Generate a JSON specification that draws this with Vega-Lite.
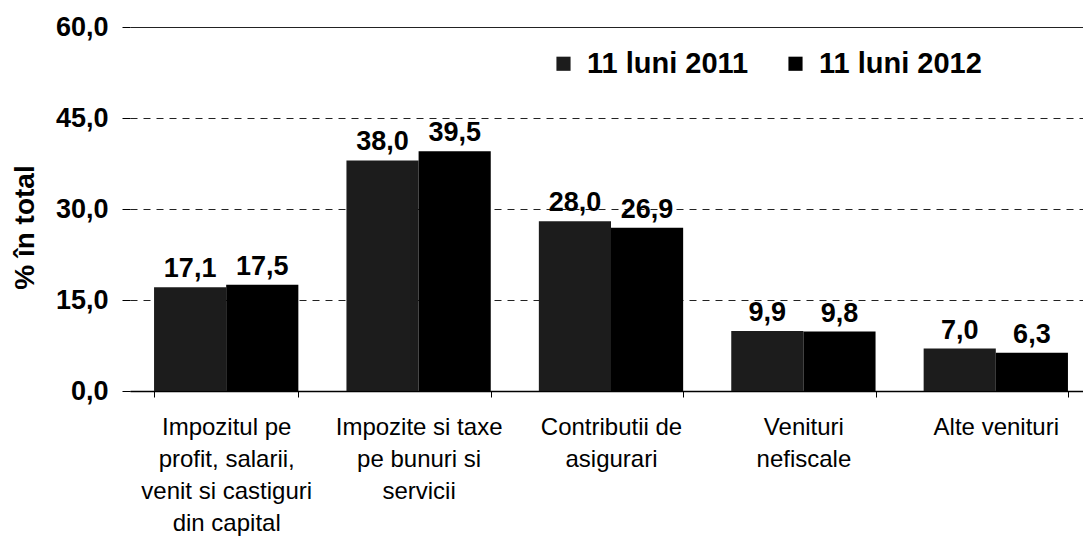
{
  "$schema": "https://vega.github.io/schema/vega-lite/v6.json",
  "width": 953,
  "height": 364,
  "autosize": {"type": "none"},
  "padding": {"left": 130, "top": 27, "right": 0, "bottom": 147},
  "background": "white",
  "config": {
    "locale": {"number": {"decimal": ",", "thousands": ".", "grouping": [3], "currency": ["", " lei"]}},
    "font": "Liberation Sans",
    "view": {"stroke": null}
  },
  "data": {
    "values": [
      {"categorie": "Impozitul pe profit, salarii, venit si castiguri din capital", "perioada": "11 luni 2011", "valoare": 17.1},
      {"categorie": "Impozitul pe profit, salarii, venit si castiguri din capital", "perioada": "11 luni 2012", "valoare": 17.5},
      {"categorie": "Impozite si taxe pe bunuri si servicii", "perioada": "11 luni 2011", "valoare": 38.0},
      {"categorie": "Impozite si taxe pe bunuri si servicii", "perioada": "11 luni 2012", "valoare": 39.5},
      {"categorie": "Contributii de asigurari", "perioada": "11 luni 2011", "valoare": 28.0},
      {"categorie": "Contributii de asigurari", "perioada": "11 luni 2012", "valoare": 26.9},
      {"categorie": "Venituri nefiscale", "perioada": "11 luni 2011", "valoare": 9.9},
      {"categorie": "Venituri nefiscale", "perioada": "11 luni 2012", "valoare": 9.8},
      {"categorie": "Alte venituri", "perioada": "11 luni 2011", "valoare": 7.0},
      {"categorie": "Alte venituri", "perioada": "11 luni 2012", "valoare": 6.3}
    ]
  },
  "encoding": {
    "x": {
      "field": "categorie",
      "type": "nominal",
      "sort": null,
      "scale": {"range": [0, 962], "paddingInner": 0.25, "paddingOuter": 0.125},
      "axis": {
        "title": null,
        "labelAngle": 0,
        "labelFont": "Liberation Sans",
        "labelFontSize": 24,
        "labelColor": "#000",
        "labelLineHeight": 32,
        "labelPadding": 18,
        "labelBaseline": "top",
        "labelLimit": 300,
        "tickBand": "extent",
        "tickSize": 6,
        "tickColor": "#000",
        "domainColor": "#000",
        "domainWidth": 1.5,
        "labelExpr": "datum.value == 'Impozitul pe profit, salarii, venit si castiguri din capital' ? ['Impozitul pe', 'profit, salarii,', 'venit si castiguri', 'din capital'] : datum.value == 'Impozite si taxe pe bunuri si servicii' ? ['Impozite si taxe', 'pe bunuri si', 'servicii'] : datum.value == 'Contributii de asigurari' ? ['Contributii de', 'asigurari'] : datum.value == 'Venituri nefiscale' ? ['Venituri', 'nefiscale'] : datum.label"
      }
    },
    "xOffset": {"field": "perioada", "type": "nominal", "sort": ["11 luni 2011", "11 luni 2012"]},
    "y": {
      "field": "valoare",
      "type": "quantitative",
      "scale": {"domain": [0, 60], "nice": false},
      "axis": {
        "title": "% în total",
        "titleFont": "Liberation Sans",
        "titleFontSize": 28,
        "titleFontWeight": "bold",
        "titleColor": "#000",
        "titleAngle": -90,
        "titleAlign": "center",
        "titleBaseline": "middle",
        "titleX": -105,
        "titleY": 200,
        "values": [0, 15, 30, 45, 60],
        "format": ".1f",
        "labelFont": "Liberation Sans",
        "labelFontSize": 27,
        "labelFontWeight": "bold",
        "labelColor": "#000",
        "labelPadding": 14,
        "tickSize": 8,
        "tickColor": "#000",
        "domain": false,
        "grid": true,
        "gridColor": "#222",
        "gridWidth": 1,
        "gridDash": {"condition": {"test": "datum.value == 60", "value": []}, "value": [7, 6]}
      }
    }
  },
  "layer": [
    {
      "mark": {"type": "bar"},
      "encoding": {
        "color": {
          "field": "perioada",
          "type": "nominal",
          "sort": ["11 luni 2011", "11 luni 2012"],
          "scale": {"domain": ["11 luni 2011", "11 luni 2012"], "range": ["#1c1c1c", "#000000"]},
          "legend": {
            "title": null,
            "orient": "none",
            "direction": "horizontal",
            "legendX": 419,
            "legendY": 22,
            "padding": 0,
            "symbolType": "square",
            "symbolSize": 200,
            "symbolStrokeWidth": 0,
            "labelFont": "Liberation Sans",
            "labelFontSize": 29,
            "labelFontWeight": "bold",
            "labelColor": "#000",
            "labelOffset": 9,
            "columnPadding": 32,
            "labelLimit": 300
          }
        }
      }
    },
    {
      "mark": {"type": "text", "dy": -4, "baseline": "bottom", "align": "center", "font": "Liberation Sans", "fontSize": 27, "fontWeight": "bold", "color": "#000"},
      "encoding": {
        "text": {"field": "valoare", "type": "quantitative", "format": ".1f"}
      }
    }
  ]
}
